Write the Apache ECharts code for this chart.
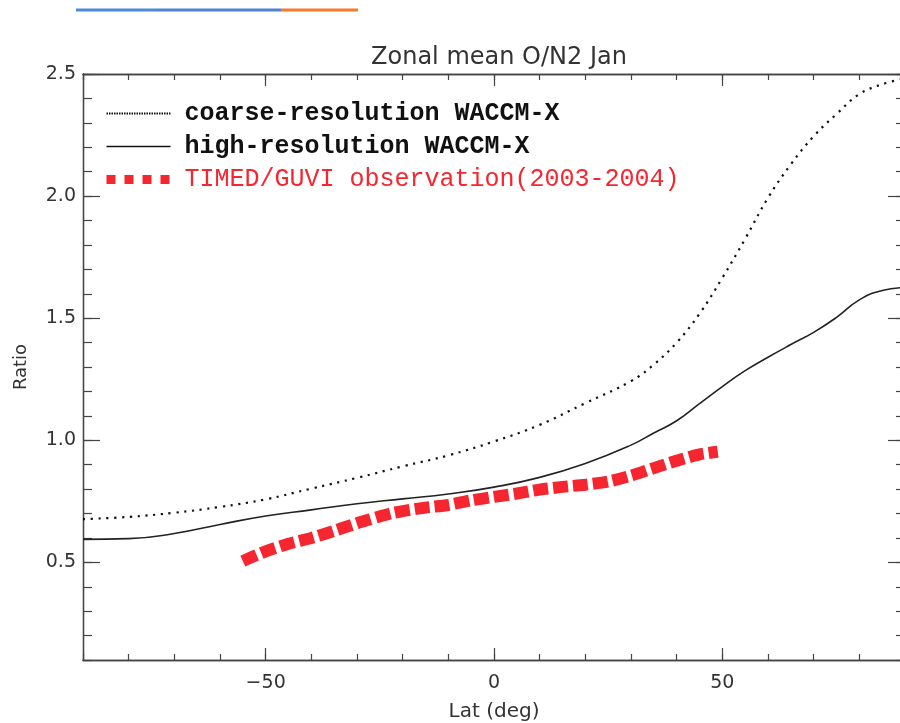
<!DOCTYPE html>
<html>
<head>
<meta charset="utf-8">
<title>Zonal mean O/N2 Jan</title>
<script src="https://cdn.jsdelivr.net/npm/echarts@6/dist/echarts.min.js"></script>
<style>
  html, body { margin: 0; padding: 0; background: #fff; }
  #main { width: 900px; height: 723px; }
</style>
</head>
<body>
<div id="main"></div>
<script>
// latitude grid of the model curves
var modelLat = [-90, -80, -70, -60, -50, -40, -30, -20, -10, 0, 10, 20, 30, 35, 40, 45, 50, 55, 60, 65, 70, 75, 80, 85, 90];
var coarseRes = [0.677, 0.686, 0.703, 0.727, 0.758, 0.802, 0.846, 0.893, 0.938, 0.995, 1.063, 1.152, 1.242, 1.310, 1.400, 1.518, 1.665, 1.825, 1.993, 2.130, 2.245, 2.336, 2.418, 2.458, 2.482];
var highRes = [0.594, 0.597, 0.618, 0.655, 0.690, 0.715, 0.740, 0.760, 0.780, 0.808, 0.848, 0.905, 0.980, 1.030, 1.080, 1.150, 1.220, 1.285, 1.340, 1.392, 1.442, 1.503, 1.575, 1.613, 1.625];

// TIMED/GUVI observation
var obsLat = [-55, -50, -45, -40, -35, -30, -27.5, -25, -22.5, -20, -15, -10, -5, 0, 5, 10, 15, 20, 25, 30, 35, 40, 45, 49];
var obsVal = [0.505, 0.545, 0.576, 0.600, 0.629, 0.660, 0.674, 0.688, 0.701, 0.710, 0.724, 0.735, 0.754, 0.768, 0.782, 0.798, 0.809, 0.818, 0.831, 0.855, 0.886, 0.916, 0.942, 0.953];

var xMajor = [-50, 0, 50];
var yMajor = [0.5, 1.0, 1.5, 2.0, 2.5];

var names = ['coarse-resolution WACCM-X', 'high-resolution WACCM-X', 'TIMED/GUVI observation(2003-2004)'];

function pairs(xs, ys) {
  return xs.map(function (x, i) { return [x, ys[i]]; });
}

var font = 'DejaVu Sans';
var axisColor = '#444';
var red = '#f5262f';

function xAx(pos, major, show) {
  var a = {
    type: 'value', position: pos, min: -90, max: 90,
    axisLine: { show: true, onZero: false, lineStyle: { color: axisColor, width: 1.3 } },
    splitLine: { show: false },
    axisTick: { show: true, inside: true, length: major ? 12 : 6, lineStyle: { color: axisColor, width: 1.2 } },
    axisLabel: { show: false }
  };
  if (major) {
    a.axisTick.customValues = xMajor;
    if (show) {
      a.axisLabel = {
        show: true, customValues: xMajor, margin: 14,
        color: '#333', fontFamily: font, fontSize: 19,
        formatter: function (v) { return v < 0 ? '\u2212' + Math.abs(v) : String(v); }
      };
      a.name = 'Lat (deg)';
      a.nameLocation = 'middle';
      a.nameGap = 42;
      a.nameTextStyle = { color: '#333', fontFamily: font, fontSize: 20 };
    }
  } else {
    a.interval = 10;
  }
  return a;
}

function yAx(pos, major, show) {
  var a = {
    type: 'value', position: pos, min: 0.1, max: 2.5,
    axisLine: { show: true, onZero: false, lineStyle: { color: axisColor, width: 1.3 } },
    splitLine: { show: false },
    axisTick: { show: true, inside: true, length: major ? 17 : 9, lineStyle: { color: axisColor, width: 1.2 } },
    axisLabel: { show: false }
  };
  if (major) {
    a.axisTick.customValues = yMajor;
    if (show) {
      a.axisLabel = {
        show: true, customValues: yMajor, margin: 7,
        color: '#333', fontFamily: font, fontSize: 19,
        formatter: function (v) { return v.toFixed(1); }
      };
      a.name = 'Ratio';
      a.nameLocation = 'middle';
      a.nameGap = 53;
      a.nameTextStyle = { color: '#333', fontFamily: font, fontSize: 18 };
    }
  } else {
    a.interval = 0.1;
  }
  return a;
}

var myChart = echarts.init(document.getElementById('main'));

var option = {
  animation: false,
  backgroundColor: '#fff',
  title: {
    text: 'Zonal mean O/N2 Jan',
    left: 494, top: 41, textAlign: 'center',
    textStyle: { color: '#333', fontFamily: font, fontSize: 24, fontWeight: 'normal' }
  },
  graphic: [
    { type: 'rect', shape: { x: 76, y: 8.5, width: 79, height: 3 }, style: { fill: '#4a89dc' } },
    { type: 'rect', shape: { x: 155, y: 8.5, width: 126, height: 3 }, style: { fill: '#5083d8' } },
    { type: 'rect', shape: { x: 281, y: 8.5, width: 77, height: 3 }, style: { fill: '#f47b2a' } }
  ],
  grid: { left: 83, right: -5, top: 74, bottom: 63, containLabel: false, outerBoundsMode: 'none' },
  legend: {
    orient: 'vertical',
    left: 97, top: 96,
    itemWidth: 64, itemHeight: 14, itemGap: 8,
    textStyle: { fontFamily: 'Liberation Mono', fontSize: 25, color: '#111', fontWeight: 'bold', padding: [0, 0, 0, 9] },
    data: [
      { name: names[0], itemStyle: { opacity: 0 }, lineStyle: { type: [1.5, 1], width: 2, color: '#111' } },
      { name: names[1], itemStyle: { opacity: 0 }, lineStyle: { width: 1.3, color: '#111' } },
      { name: names[2], itemStyle: { opacity: 0 }, lineStyle: { type: [9, 9], width: 9, color: red }, textStyle: { color: red, fontWeight: 'normal' } }
    ]
  },
  xAxis: [xAx('bottom', false), xAx('bottom', true, true), xAx('top', false), xAx('top', true)],
  yAxis: [yAx('left', false), yAx('left', true, true), yAx('right', false), yAx('right', true)],
  series: [
    {
      name: names[0], type: 'line', xAxisIndex: 1, yAxisIndex: 1,
      data: pairs(modelLat, coarseRes), smooth: 0.4, symbol: 'none', showSymbol: false,
      itemStyle: { color: '#111' },
      lineStyle: { color: '#111', width: 2.2, type: [2.2, 5.6] }, z: 3
    },
    {
      name: names[1], type: 'line', xAxisIndex: 1, yAxisIndex: 1,
      data: pairs(modelLat, highRes), smooth: 0.5, symbol: 'none', showSymbol: false,
      itemStyle: { color: '#222' },
      lineStyle: { color: '#222', width: 1.6 }, z: 3
    },
    {
      name: names[2], type: 'line', xAxisIndex: 1, yAxisIndex: 1,
      data: pairs(obsLat, obsVal), smooth: 0.25, symbol: 'none', showSymbol: false,
      itemStyle: { color: red },
      lineStyle: { color: red, width: 12, type: [15, 5], cap: 'butt' }, z: 2
    }
  ]
};

myChart.setOption(option);
window.addEventListener('resize', function () {
  myChart.resize();
});
</script>
</body>
</html>
